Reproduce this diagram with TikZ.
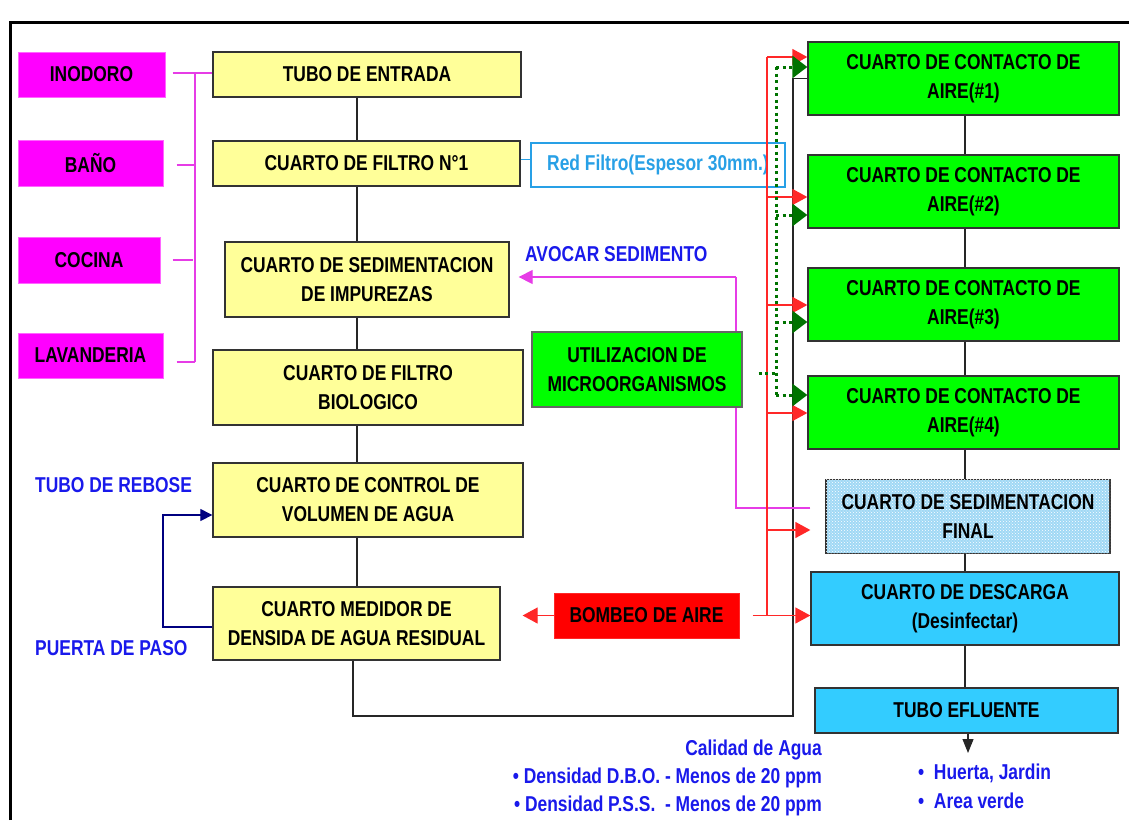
\documentclass[tikz,border=0pt]{standalone}
\usepackage{fontspec}
\setmainfont{Liberation Sans}[FakeStretch=0.81]
\usetikzlibrary{arrows.meta,patterns,calc}
\definecolor{mag}{RGB}{255,0,255}
\definecolor{magl}{RGB}{230,60,230}
\definecolor{yel}{RGB}{255,255,153}
\definecolor{grn}{RGB}{0,255,0}
\definecolor{cyanb}{RGB}{51,204,255}
\definecolor{sedc}{RGB}{160,216,245}
\definecolor{dgreen}{RGB}{0,115,0}
\definecolor{navyb}{RGB}{0,0,128}
\definecolor{txtblue}{RGB}{25,25,235}
\definecolor{lblue}{RGB}{40,160,230}
\definecolor{redl}{RGB}{255,40,40}
\tikzset{
  base/.style={font=\bfseries\fontsize{21.5}{29}\selectfont, align=center, inner sep=0pt},
  magbox/.style={base, fill=mag, draw=mag!60, line width=1pt},
  yelbox/.style={base, fill=yel, draw=black!80, line width=1.3pt},
  grnbox/.style={base, fill=grn, draw=black!80, line width=1.3pt},
  cybox/.style={base, fill=cyanb, draw=black!80, line width=1.3pt},
  sedbox/.style={base, fill=sedc, draw=black!80, line width=1.3pt, postaction={pattern=crosshatch dots, pattern color=white}},
  redbox/.style={base, fill=red, draw=redl, line width=1pt},
  lab/.style={font=\bfseries\fontsize{21.5}{29}\selectfont, text=txtblue, inner sep=0pt},
  conn/.style={draw=black!85, line width=1.2pt},
  mg/.style={draw=magl, line width=1.3pt},
  rline/.style={draw=redl, line width=1.3pt},
  rarr/.style={rline, -{Triangle[length=15pt,width=16pt]}},
  gdot/.style={draw=dgreen, line width=3pt, dash pattern=on 3pt off 3.5pt},
  garr/.style={gdot, -{Triangle[length=15pt,width=22pt]}},
}
\begin{document}
\begin{tikzpicture}[x=1pt,y=-1pt]
\useasboundingbox (0,0) rectangle (1129,820);
\draw[line width=3pt] (10,820) -- (10,22) -- (1129,22);

% magenta sources
\node[magbox, minimum width=147, minimum height=45] (ino) at (91.5,74.5) {INODORO};
\node[magbox, minimum width=145, minimum height=46] (bano) at (90.5,163) {BAÑO};
\node[magbox, minimum width=142, minimum height=46] (coc) at (89,260) {COCINA};
\node[magbox, minimum width=145, minimum height=45] (lav) at (90.5,355.5) {LAVANDERIA};

% left column
\node[yelbox, minimum width=308, minimum height=45] (tubo) at (367,74.5) {TUBO DE ENTRADA};
\node[yelbox, minimum width=307, minimum height=45] (filt1) at (366.5,163.5) {CUARTO DE FILTRO N°1};
\node[yelbox, minimum width=284, minimum height=75] (sedi) at (367,279.5) {CUARTO DE SEDIMENTACION\\DE IMPUREZAS};
\node[yelbox, minimum width=310, minimum height=75] (bio) at (368,387.5) {CUARTO DE FILTRO\\BIOLOGICO};
\node[yelbox, minimum width=310, minimum height=74] (vol) at (368,500) {CUARTO DE CONTROL DE\\VOLUMEN DE AGUA};
\node[yelbox, minimum width=287, minimum height=73] (med) at (356.5,623.5) {CUARTO MEDIDOR DE\\DENSIDA DE AGUA RESIDUAL};

% magenta collector
\coordinate (v1) at (195,73);
\coordinate (v2) at (195,165);
\coordinate (v3) at (195,260);
\coordinate (v4) at (195,362);
\draw[mg] (v1) -- (v4);
\draw[mg] ($(v1 -| ino.east)+(7,0)$) -- (v1 -| tubo.west);
\draw[mg] ($(v2 -| bano.east)+(13,0)$) -- (v2);
\draw[mg] ($(v3 -| coc.east)+(12,0)$) -- ($(v3)+(-2,0)$);
\draw[mg] ($(v4 -| lav.east)+(13,0)$) -- (v4);

% left column connectors
\coordinate (lc) at (357,0);
\draw[conn] (tubo.south -| lc) -- (filt1.north -| lc);
\draw[conn] (filt1.south -| lc) -- (sedi.north -| lc);
\draw[conn] (sedi.south -| lc) -- (bio.north -| lc);
\draw[conn] (bio.south -| lc) -- (vol.north -| lc);
\draw[conn] (vol.south -| lc) -- (med.north -| lc);

% right column
\node[grnbox, minimum width=311, minimum height=73] (a1) at (963.5,78.5) {CUARTO DE CONTACTO DE\\AIRE(\#1)};
\node[grnbox, minimum width=311, minimum height=73] (a2) at (963.5,191.5) {CUARTO DE CONTACTO DE\\AIRE(\#2)};
\node[grnbox, minimum width=311, minimum height=73] (a3) at (963.5,304.5) {CUARTO DE CONTACTO DE\\AIRE(\#3)};
\node[grnbox, minimum width=311, minimum height=73] (a4) at (963.5,412.5) {CUARTO DE CONTACTO DE\\AIRE(\#4)};
\node[sedbox, minimum width=284, minimum height=74] (sedf) at (968,516.5) {CUARTO DE SEDIMENTACION\\FINAL};
\node[cybox, minimum width=308, minimum height=73] (desc) at (965,608.5) {CUARTO DE DESCARGA\\(Desinfectar)};
\node[cybox, minimum width=303, minimum height=45] (efl) at (966.5,710.5) {TUBO EFLUENTE};

\coordinate (rc) at (965,0);
\draw[conn] (a1.south -| rc) -- (a2.north -| rc);
\draw[conn] (a2.south -| rc) -- (a3.north -| rc);
\draw[conn] (a3.south -| rc) -- (a4.north -| rc);
\draw[conn] (a4.south -| rc) -- (sedf.north -| rc);
\draw[conn] (sedf.south -| rc) -- (desc.north -| rc);
\draw[conn] (desc.south -| rc) -- (efl.north -| rc);
\coordinate (eh) at (968,753);
\draw[conn, -{Triangle[length=14pt,width=11pt]}] (efl.south -| eh) -- (eh);

% black return line
\coordinate (m1) at (353,716);
\coordinate (m2) at (793,716);
\draw[conn] (med.south -| m1) -- (m1) -- (m2) |- (a1.west);

% magenta sediment return
\coordinate (s1) at (736,508);
\coordinate (s2) at (736,277);
\draw[mg] (s1 -| desc.west) -- (s1) -- (s2);
\draw[mg, -{Triangle[length=14pt,width=14pt]}] (s2) -- ($(s2 -| sedi.east)+(9,0)$);
\node[lab, anchor=west] (avo) at (525,254) {AVOCAR SEDIMENTO};

% utilizacion and bombeo
\node[grnbox, draw=black!60, minimum width=210, minimum height=75] (util) at (637,369.5) {UTILIZACION DE\\MICROORGANISMOS};
\node[redbox, minimum width=185, minimum height=45] (bomb) at (646.5,615.5) {BOMBEO DE AIRE};

% red filtro
\node[base, font=\bfseries\fontsize{21.5}{29}\selectfont, text=lblue, draw=lblue, line width=1.2pt, fill=white, minimum width=254, minimum height=44] (rf) at (658,165) {Red Filtro(Espesor 30mm.)};
\draw[draw=lblue, line width=1pt] (filt1.east |- 0,159) -- (rf.west |- 0,159);

% red air lines
\coordinate (r1) at (767,57);
\coordinate (r2) at (767,197);
\coordinate (r3) at (767,305);
\coordinate (r4) at (767,413);
\coordinate (r5) at (767,530);
\coordinate (r6) at (767,615);
\draw[rline] (r1) -- (r6);
\draw[rarr] (r1) -- (r1 -| a1.west);
\draw[rarr] (r2) -- (r2 -| a2.west);
\draw[rarr] (r3) -- (r3 -| a3.west);
\draw[rarr] (r4) -- (r4 -| a4.west);
\draw[rarr] (r5) -- (r5 -| desc.west);
\draw[rarr] ($(bomb.east)+(13,0)$) -- (bomb.east -| desc.west);
\draw[rarr] (bomb.west) -- ($(med.east |- bomb.west)+(22,0)$);

% green dotted microorganisms
\coordinate (g1) at (776,67);
\coordinate (g2) at (776,215);
\coordinate (g3) at (776,322);
\coordinate (g4) at (776,395);
\coordinate (gu) at (776,373);
\draw[gdot] ($(util.east |- gu)+(16,0)$) -- (gu);
\draw[gdot] (g1) -- (g4);
\draw[garr] (g1) -- (g1 -| a1.west);
\draw[garr] (g2) -- (g2 -| a2.west);
\draw[garr] (g3) -- (g3 -| a3.west);
\draw[garr] (g4) -- (g4 -| a4.west);

% navy overflow loop
\coordinate (n1) at (163,627);
\coordinate (n2) at (163,515);
\draw[draw=navyb, line width=1.2pt, -{Triangle[length=12pt,width=12pt]}] (n1 -| med.west) -- (n1) -- (n2) -- (n2 -| vol.west);
\node[lab, anchor=west] (reb) at (35,485) {TUBO DE REBOSE};
\node[lab, anchor=west] (pue) at (35,648) {PUERTA DE PASO};

% bottom notes
\node[lab, anchor=east] (cal) at (822,750) {Calidad de Agua};
\node[lab, anchor=east] (dbo) at (822,778) {• Densidad D.B.O. - Menos de 20 ppm};
\node[lab, anchor=east] (pss) at (822,806) {• Densidad P.S.S.~ - Menos de 20 ppm};
\node[lab, anchor=west] (hue) at (918,773) {•~ Huerta, Jardin};
\node[lab, anchor=west] (are) at (918,801) {•~ Area verde};
\end{tikzpicture}
\end{document}
